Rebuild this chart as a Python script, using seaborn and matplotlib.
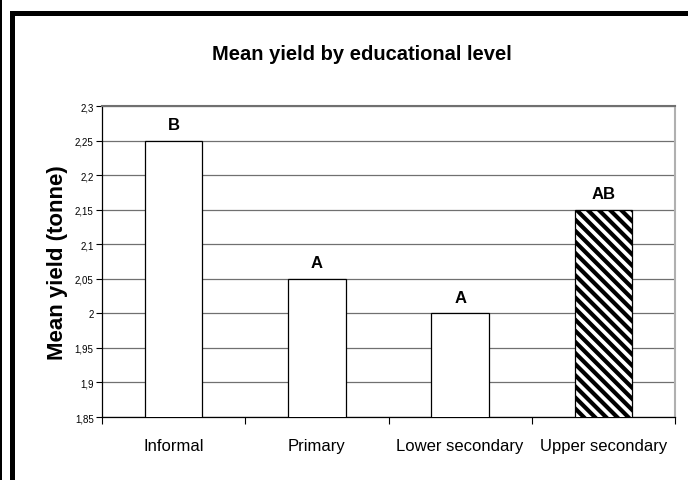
import matplotlib
matplotlib.use("Agg")
import matplotlib.pyplot as plt
import matplotlib.patches as mpatches
import numpy as np
import pandas as pd
import seaborn as sns

categories = ["Informal", "Primary", "Lower secondary", "Upper secondary"]
mean_yield = [2.25, 2.05, 2.00, 2.15]
letters = ["B", "A", "A", "AB"]
y_ticks = [1.85, 1.9, 1.95, 2.0, 2.05, 2.1, 2.15, 2.2, 2.25, 2.3]

sns.set_theme(style="white")
plt.rcParams['font.family'] = ['Liberation Sans', 'DejaVu Sans']
plt.rcParams['hatch.linewidth'] = 3.0
plt.rcParams['hatch.color'] = 'black'
plt.rcParams['text.color'] = 'black'
plt.rcParams['axes.labelcolor'] = 'black'
plt.rcParams['xtick.color'] = 'black'
plt.rcParams['ytick.color'] = 'black'

df = pd.DataFrame({"level": categories, "yield": mean_yield})

fig = plt.figure(figsize=(6.88, 4.81), dpi=100)
ax = fig.add_axes([102/688, 1-418/481, (675-102)/688, (418-107)/481])

sns.barplot(data=df, x="level", y="yield", ax=ax, width=0.4,
            color="white", edgecolor="black", linewidth=0.9, zorder=3)
ax.patches[3].set_hatch(chr(92) * 3)

ax.set_ylim(1.85, 2.3)
ax.set_xlim(-0.5, len(categories) - 0.5)
ax.set_yticks(y_ticks)
ax.set_yticklabels([f"{v:g}".replace('.', ',') for v in y_ticks], fontsize=7)
for v in y_ticks:
    ax.axhline(v, color='#707070', lw=0.9, zorder=1)

ax.set_xticks(np.arange(-0.5, len(categories), 1.0))
ax.set_xticklabels([])
ax.set_xticks(np.arange(len(categories)), minor=True)
ax.set_xticklabels(categories, minor=True, fontsize=12)
ax.tick_params(axis='x', which='minor', length=0, pad=15)
ax.tick_params(axis='x', which='major', length=5, width=0.8, color='black', direction='out', bottom=True)
ax.tick_params(axis='y', length=4, width=0.8, color='black', direction='out', left=True, pad=2)

ax.set_xlabel("")
ax.set_ylabel("Mean yield (tonne)", fontsize=16, fontweight='bold', labelpad=5)

for s in ['left', 'bottom']:
    ax.spines[s].set_color('black')
    ax.spines[s].set_linewidth(0.9)
ax.spines['top'].set_color('#707070')
ax.spines['top'].set_linewidth(1.5)
ax.spines['right'].set_color('#b0b0b0')
ax.spines['right'].set_linewidth(1.5)

for i, (v, t) in enumerate(zip(mean_yield, letters)):
    ax.text(i, v + 0.012, t, ha='center', va='bottom', fontsize=12, fontweight='bold')

fig.text(362/688, 1-55/481, "Mean yield by educational level", ha='center', va='center',
         fontsize=14.5, fontweight='bold')

# outer frame
fig.add_artist(mpatches.Rectangle((0, 0), 2/688, 1, transform=fig.transFigure, color='black', lw=0))
fig.add_artist(mpatches.Rectangle((10/688, 0), 5/688, 1-12/481, transform=fig.transFigure, color='black', lw=0))
fig.add_artist(mpatches.Rectangle((10/688, 1-17/481), 1, 5/481, transform=fig.transFigure, color='black', lw=0))

fig.savefig("out.png", dpi=100)
